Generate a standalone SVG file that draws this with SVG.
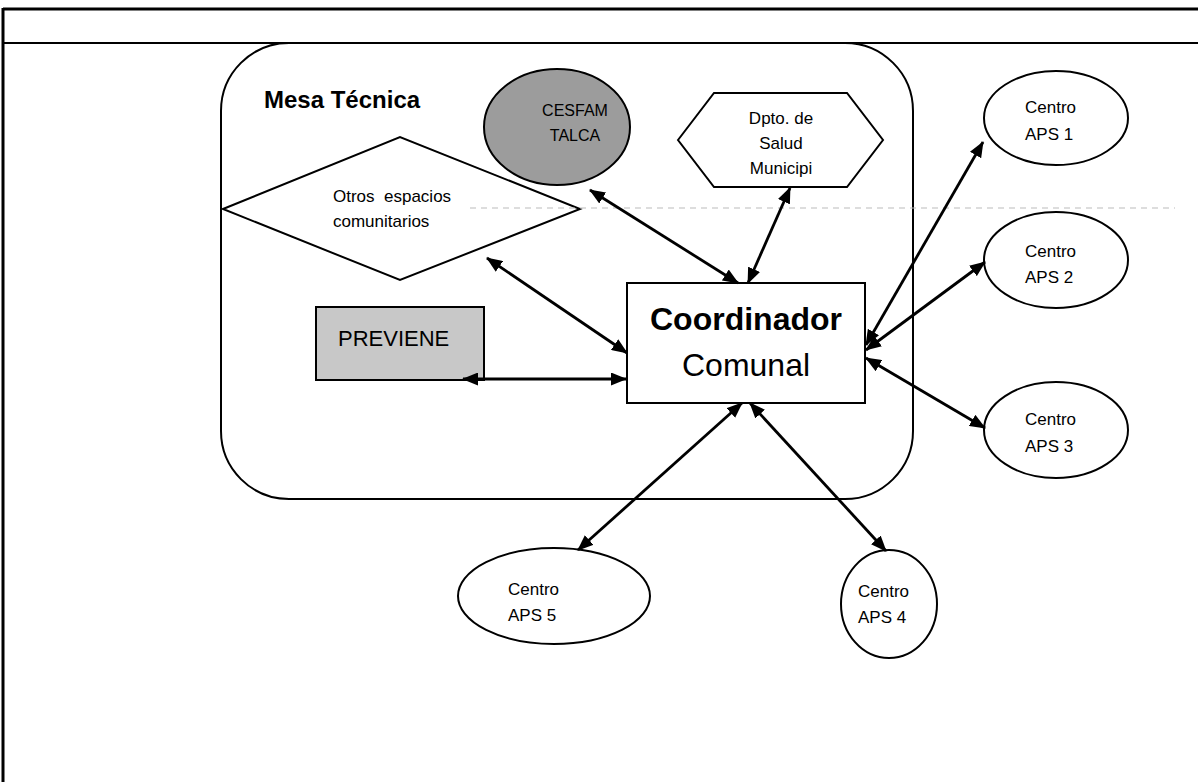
<svg xmlns="http://www.w3.org/2000/svg" width="1198" height="782" viewBox="0 0 1198 782">
<defs>
<marker id="ah" viewBox="0 0 16 13" refX="15" refY="6.5" markerWidth="16" markerHeight="13" markerUnits="userSpaceOnUse" orient="auto-start-reverse">
<path d="M0,0 L16,6.5 L0,13 Z" fill="#000"/>
</marker>
<style>
.sh{stroke:#000;stroke-width:2;fill:#fff}
.t{font-family:"Liberation Sans",Arial,sans-serif;fill:#000}
.c{stroke:#000;stroke-width:2.8;fill:none;marker-start:url(#ah);marker-end:url(#ah)}
</style>
</defs>
<rect width="1198" height="782" fill="#fff"/>
<g id="frame">
<line x1="3" y1="9" x2="1198" y2="9" stroke="#000" stroke-width="3"/>
<line x1="3" y1="43" x2="1198" y2="43" stroke="#000" stroke-width="2"/>
<line x1="3" y1="8" x2="3" y2="782" stroke="#000" stroke-width="3"/>
</g>
<g id="mesa">
<rect x="221" y="43" width="692" height="456" rx="68" ry="68" style="fill:none;stroke:#000;stroke-width:2"/>
<text x="264" y="108" class="t" font-size="24" font-weight="bold">Mesa Técnica</text>
</g>
<g id="cesfam">
<ellipse cx="557" cy="127" rx="73" ry="58" class="sh" style="fill:#9c9c9c"/>
<text x="575" y="116" class="t" font-size="16" text-anchor="middle">CESFAM</text>
<text x="575" y="141" class="t" font-size="16" text-anchor="middle">TALCA</text>
</g>
<g id="dpto">
<polygon points="678,140 714,93 847,93 883,140 847,187 714,187" class="sh"/>
<text x="781" y="124" class="t" font-size="17" text-anchor="middle">Dpto. de</text>
<text x="781" y="149" class="t" font-size="17" text-anchor="middle">Salud</text>
<text x="781" y="174" class="t" font-size="17" text-anchor="middle">Municipi</text>
</g>
<g id="otros">
<polygon points="223,209 400,137 580,209 400,280" class="sh"/>
<text x="333" y="202" class="t" font-size="17" xml:space="preserve">Otros  espacios</text>
<text x="333" y="227" class="t" font-size="17">comunitarios</text>
</g>
<line x1="470" y1="208" x2="1175" y2="208" stroke="#bbb" stroke-width="1" stroke-dasharray="6 5"/>
<g id="previene">
<rect x="316" y="307" width="168" height="73" class="sh" style="fill:#c8c8c8"/>
<text x="338" y="346" class="t" font-size="22">PREVIENE</text>
</g>
<g id="coordinador">
<rect x="627" y="283" width="238" height="120" class="sh"/>
<text x="746" y="330" class="t" font-size="32" font-weight="bold" text-anchor="middle">Coordinador</text>
<text x="746" y="376" class="t" font-size="32" text-anchor="middle">Comunal</text>
</g>
<g id="aps1">
<ellipse cx="1056" cy="118" rx="72" ry="47" class="sh"/>
<text x="1025" y="113" class="t" font-size="17">Centro</text>
<text x="1025" y="140" class="t" font-size="17">APS 1</text>
</g>
<g id="aps2">
<ellipse cx="1056" cy="260" rx="72" ry="48" class="sh"/>
<text x="1025" y="257" class="t" font-size="17">Centro</text>
<text x="1025" y="283" class="t" font-size="17">APS 2</text>
</g>
<g id="aps3">
<ellipse cx="1056" cy="430" rx="72" ry="48" class="sh"/>
<text x="1025" y="425" class="t" font-size="17">Centro</text>
<text x="1025" y="452" class="t" font-size="17">APS 3</text>
</g>
<g id="aps5">
<ellipse cx="554" cy="596" rx="96" ry="48" class="sh"/>
<text x="508" y="595" class="t" font-size="17">Centro</text>
<text x="508" y="621" class="t" font-size="17">APS 5</text>
</g>
<g id="aps4">
<ellipse cx="889" cy="604" rx="48" ry="54" class="sh"/>
<text x="858" y="597" class="t" font-size="17">Centro</text>
<text x="858" y="623" class="t" font-size="17">APS 4</text>
</g>
<g id="connectors">
<line x1="738" y1="283" x2="590" y2="190" class="c"/>
<line x1="748" y1="283" x2="790" y2="188" class="c"/>
<line x1="627" y1="353" x2="487" y2="258" class="c"/>
<line x1="626" y1="379" x2="463" y2="379" class="c"/>
<line x1="866" y1="345" x2="983" y2="142" class="c"/>
<line x1="866" y1="350" x2="985" y2="262" class="c"/>
<line x1="866" y1="358" x2="985" y2="428" class="c"/>
<line x1="742" y1="403" x2="578" y2="550" class="c"/>
<line x1="750" y1="403" x2="886" y2="551" class="c"/>
</g>
</svg>
